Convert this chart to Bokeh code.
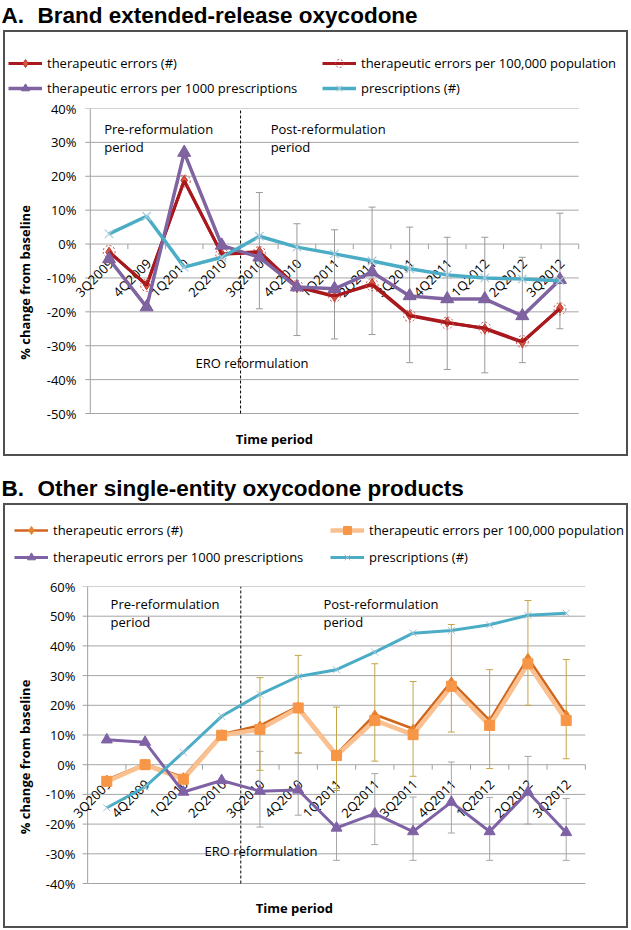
import numpy as np
from bokeh.plotting import figure
from bokeh.models import (Range1d, FactorRange, Label, Legend, LegendItem,
                          FixedTicker, PrintfTickFormatter, InlineStyleSheet)
from bokeh.layouts import column
from bokeh.core.properties import value
from bokeh.embed import file_html
from bokeh.resources import INLINE

FONT = "Open Sans"
TITLE_FONT = "Liberation Sans"

# ---------------- data ----------------
quarters = ["3Q2009", "4Q2009", "1Q2010", "2Q2010", "3Q2010", "4Q2010", "1Q2011",
            "2Q2011", "3Q2011", "4Q2011", "1Q2012", "2Q2012", "3Q2012"]
reformulation_quarter = "3Q2010"
post_quarters = quarters[quarters.index(reformulation_quarter):]

series_labels = ["therapeutic errors (#)", "therapeutic errors per 100,000 population",
                 "therapeutic errors per 1000 prescriptions", "prescriptions (#)"]

# Panel A: Brand extended-release oxycodone (% change from baseline)
a_errors = [-2.4, -12.0, 18.8, -2.9, -2.2, -12.7, -15.5, -11.7, -21.0, -23.1, -25.0, -29.0, -18.9]
a_errors_pop = [-2.2, -12.2, 18.6, -3.0, -2.5, -12.5, -15.3, -12.0, -21.2, -23.3, -24.8, -28.8, -19.1]
a_errors_rx = [-4.4, -18.6, 27.0, -0.4, -3.9, -12.7, -13.2, -8.3, -15.3, -16.2, -16.2, -21.2, -10.5]
a_rx = [3.0, 8.2, -6.8, -3.9, 2.3, -0.9, -2.9, -5.0, -7.3, -9.1, -10.0, -10.3, -10.8]
a_err_upper = [15.2, 6.0, 4.2, 10.9, 5.0, 2.0, 2.0, -3.9, 9.1]
a_err_lower = [-19.1, -27.0, -28.0, -26.7, -35.0, -37.0, -38.0, -35.0, -25.0]
a_yticks = [-50, -40, -30, -20, -10, 0, 10, 20, 30, 40]

# Panel B: Other single-entity oxycodone products
b_errors = [-5.0, 0.3, -4.2, 10.3, 13.2, 19.6, 3.6, 16.9, 12.1, 28.0, 14.9, 36.0, 16.9]
b_errors_pop = [-5.6, 0.0, -4.9, 9.9, 11.9, 19.1, 3.1, 14.9, 10.1, 26.4, 13.2, 34.0, 14.9]
b_errors_rx = [8.4, 7.6, -9.2, -5.3, -8.9, -8.5, -21.3, -16.5, -22.5, -12.6, -22.5, -9.2, -22.8]
b_rx = [-14.5, -7.5, 4.2, 16.3, 23.7, 29.7, 32.0, 37.9, 44.3, 45.2, 47.1, 50.3, 51.0]
b_err_upper = [29.3, 36.8, 19.4, 34.0, 28.0, 47.2, 32.0, 55.3, 35.4]
b_err_lower = [-1.9, 3.9, -8.7, 1.2, -3.9, 11.0, -1.3, 20.0, 2.0]
b_rx_err_upper = [4.5, 4.0, -8.0, -3.0, -10.9, 0.9, -11.0, 2.8, -11.4]
b_rx_err_lower = [-21.0, -17.0, -32.2, -26.9, -32.2, -23.0, -32.2, -20.0, -32.2]
b_yticks = [-40, -30, -20, -10, 0, 10, 20, 30, 40, 50, 60]

W = 631
PAD = 0.5  # category padding on both sides of the x range
AXIS_GRAY = "#a0a0a0"


def box_css(top, height, open_side):
    return InlineStyleSheet(css=(
        ":host::after{content:'';position:absolute;pointer-events:none;z-index:20;"
        f"left:3px;top:{top}px;width:{W - 6}px;height:{height}px;"
        "border:2px solid #505050;box-sizing:border-box;"
        f"border-{open_side}:none;}}"))


def header(letter, title, height, title_y, box_top, legend_specs, legend_left,
           legend_top, spacing):
    h = figure(width=W, height=height, x_range=Range1d(0, W), y_range=Range1d(height, 0),
               x_axis_location=None, y_axis_location=None, output_backend="svg",
               toolbar_location=None, min_border=0, frame_align=False)
    h.outline_line_color = None
    h.grid.visible = False
    h.background_fill_color = "white"
    h.stylesheets = [box_css(box_top, height - box_top, "bottom")]
    for txt, x in ((letter, 1), (title, 37)):
        h.add_layout(Label(x=x, y=title_y, text=txt, text_font=TITLE_FONT,
                           text_font_style="bold", text_font_size="22.5px",
                           text_baseline="middle", text_color="black"))
    items = []
    for label, line_kw, marker_kw in legend_specs:
        # legend swatches only: a single point placed off the canvas
        lr = h.line(x=[-1000, -999], y=[-1000, -1000], **line_kw)
        mr = h.scatter(x=[-1000], y=[-1000], **marker_kw)
        items.append(LegendItem(label=label, renderers=[lr, mr]))
    leg_h = 2 * 20 + spacing
    h.add_layout(Legend(items=items, orientation="horizontal", ncols=2,
                        location=(legend_left, height - legend_top - leg_h),
                        label_text_font=FONT, label_text_font_size="13px",
                        label_text_color="black", glyph_width=34, glyph_height=20,
                        label_height=20, label_width=270, label_standoff=5,
                        spacing=spacing, padding=0, margin=0,
                        border_line_color=None, background_fill_alpha=0))
    return h


def chart(height, axis_x, right_x, frame_top, ppu, yticks, box_height,
          label_right, ylabel_standoff):
    ncat = len(quarters)
    cat_w = (right_x - axis_x) / ncat
    left_border = int(round(axis_x - PAD * cat_w))
    right_border = int(round(W - (right_x + PAD * cat_w)))
    frame_bottom = height - 2
    y_end = yticks[-1]
    y_start = y_end - (frame_bottom - frame_top) / ppu
    p = figure(width=W, height=height,
               x_range=FactorRange(factors=quarters, range_padding=PAD,
                                   range_padding_units="absolute"),
               y_range=Range1d(y_start, y_end), output_backend="svg",
               toolbar_location=None, frame_align=False,
               min_border_left=left_border, min_border_right=right_border,
               min_border_top=frame_top, min_border_bottom=2)
    p.background_fill_color = "white"
    p.border_fill_color = "white"
    p.outline_line_color = None
    p.grid.visible = False
    p.xaxis.visible = False
    p.stylesheets = [box_css(0, box_height, "top")]

    # value axis: labels from Bokeh's axis (left panel), rule drawn at the category edge
    ya = p.yaxis[0]
    ya.bounds = (yticks[0], yticks[-1])
    ya.ticker = FixedTicker(ticks=yticks)
    ya.formatter = PrintfTickFormatter(format="%d%%")
    ya.major_label_text_font = FONT
    ya.major_label_text_font_size = "13px"
    ya.major_label_text_color = "black"
    ya.major_label_standoff = -(label_right - left_border)
    ya.axis_line_color = None
    ya.major_tick_line_color = None
    ya.major_tick_out = 0
    ya.major_tick_in = 0
    ya.minor_tick_line_color = None
    ya.axis_label = "% change from baseline"
    ya.axis_label_text_font = FONT
    ya.axis_label_text_font_style = "bold"
    ya.axis_label_text_font_size = "13px"
    ya.axis_label_text_color = "black"
    ya.axis_label_standoff = ylabel_standoff

    tick_w = 5 / cat_w
    p.segment(x0=0, y0=yticks[0], x1=0, y1=yticks[-1], line_color=AXIS_GRAY, line_width=1)
    p.segment(x0=-tick_w, y0=yticks, x1=0, y1=yticks, line_color=AXIS_GRAY, line_width=1)
    # horizontal gridlines across the category span
    p.segment(x0=0, y0=yticks, x1=ncat, y1=yticks, line_color="#a6a6a6", line_width=1)
    # category tick marks below the zero line
    bounds = list(range(ncat + 1))
    p.segment(x0=bounds, y0=0, x1=bounds, y1=-5 / ppu, line_color=AXIS_GRAY, line_width=1)
    # reformulation divider
    ref = quarters.index(reformulation_quarter)
    p.segment(x0=ref, y0=yticks[0], x1=ref, y1=yticks[-1], line_color="black",
              line_dash="3 2", line_width=1)
    # category labels along the zero line
    p.text(x=quarters, y=0, text=quarters, angle=np.pi / 4, text_align="right",
           text_baseline="middle", x_offset=2, y_offset=17,
           text_font=value(FONT), text_font_size="13px", text_color="black")
    return p


def add_text(p, x, y, text, align="left", baseline="top", bold=False):
    p.add_layout(Label(x=x, y=y, text=text, text_font=FONT, text_font_size="13px",
                       text_font_style="bold" if bold else "normal",
                       text_align=align, text_baseline=baseline, text_color="black",
                       text_line_height=1.0))


def errbars(p, xs, lower, upper, color):
    p.segment(x0=xs, y0=lower, x1=xs, y1=upper, line_color=color, line_width=1)
    p.scatter(x=xs, y=upper, marker="dash", size=7, line_color=color, line_width=1)
    p.scatter(x=xs, y=lower, marker="dash", size=7, line_color=color, line_width=1)


def draw(p, values, line_kw, marker_kw):
    p.line(quarters, values, **line_kw)
    p.scatter(quarters, values, **marker_kw)


# ---------------- Panel A ----------------
RED = "#A8181C"
a_styles = [
    (dict(line_color=RED, line_width=3),
     dict(marker="diamond", size=10, fill_color="#D9553F", line_color="#B8352C")),
    (dict(line_color=RED, line_width=3),
     dict(marker="circle", size=12, fill_color=None, line_color="#C0504D",
          line_dash="2 2", line_width=1)),
    (dict(line_color="#8064A2", line_width=3.5),
     dict(marker="triangle", size=13, fill_color="#8064A2", line_color="#7A5E9C")),
    (dict(line_color="#4BACC6", line_width=3.5),
     dict(marker="x", size=12, line_color="#A9CCDA", line_width=1.2)),
]
ha = header("A.", "Brand extended-release oxycodone", 98, 15, 30,
            [(lab, lk, mk) for lab, (lk, mk) in zip(series_labels, a_styles)],
            8, 53, 5)
A_PPU = 305 / 90
pa = chart(360, 90, 578, 10, A_PPU, a_yticks, 358, 76, 10)
errbars(pa, post_quarters, a_err_lower, a_err_upper, "#9a9a9a")
for vals, (lk, mk) in zip([a_errors, a_errors_pop, a_errors_rx, a_rx], a_styles):
    draw(pa, vals, lk, mk)
add_text(pa, 0.37, 36.5, "Pre-reformulation\nperiod")
add_text(pa, 4.8, 36.5, "Post-reformulation\nperiod")
add_text(pa, 2.8, -35.2, "ERO reformulation", baseline="middle")
add_text(pa, 4.9, -57.4, "Time period", align="center", baseline="middle", bold=True)

# ---------------- Panel B ----------------
b_styles = [
    (dict(line_color="#D0661C", line_width=2.5),
     dict(marker="diamond", size=9, fill_color="#E8822E", line_color="#E8822E")),
    (dict(line_color="#FAC090", line_width=4.5),
     dict(marker="square", size=10, fill_color="#F79646", line_color="#F79646")),
    (dict(line_color="#7F62A5", line_width=3),
     dict(marker="triangle", size=11, fill_color="#7F62A5", line_color="#7F62A5")),
    (dict(line_color="#4BACC6", line_width=3),
     dict(marker="x", size=10, line_color="#9DC3D4", line_width=1)),
]
hb = header("B.", "Other single-entity oxycodone products", 110, 30, 45,
            [(lab, lk, mk) for lab, (lk, mk) in zip(series_labels, b_styles)],
            14, 62, 7)
B_PPU = 297 / 100
pb = chart(361, 87, 585, 18, B_PPU, b_yticks, 360, 75, 9)
errbars(pb, post_quarters, b_rx_err_lower, b_rx_err_upper, "#a6a6a6")
errbars(pb, post_quarters, b_err_lower, b_err_upper, "#C4A548")
for vals, (lk, mk) in zip([b_errors, b_errors_pop, b_errors_rx, b_rx], b_styles):
    draw(pb, vals, lk, mk)
add_text(pb, 0.6, 57.0, "Pre-reformulation\nperiod")
add_text(pb, 6.16, 57.0, "Post-reformulation\nperiod")
add_text(pb, 3.05, -28.9, "ERO reformulation", baseline="middle")
add_text(pb, 5.4, -48.1, "Time period", align="center", baseline="middle", bold=True)

layout = column(ha, pa, hb, pb, spacing=0)
open("out.html", "w").write(file_html(layout, INLINE))
